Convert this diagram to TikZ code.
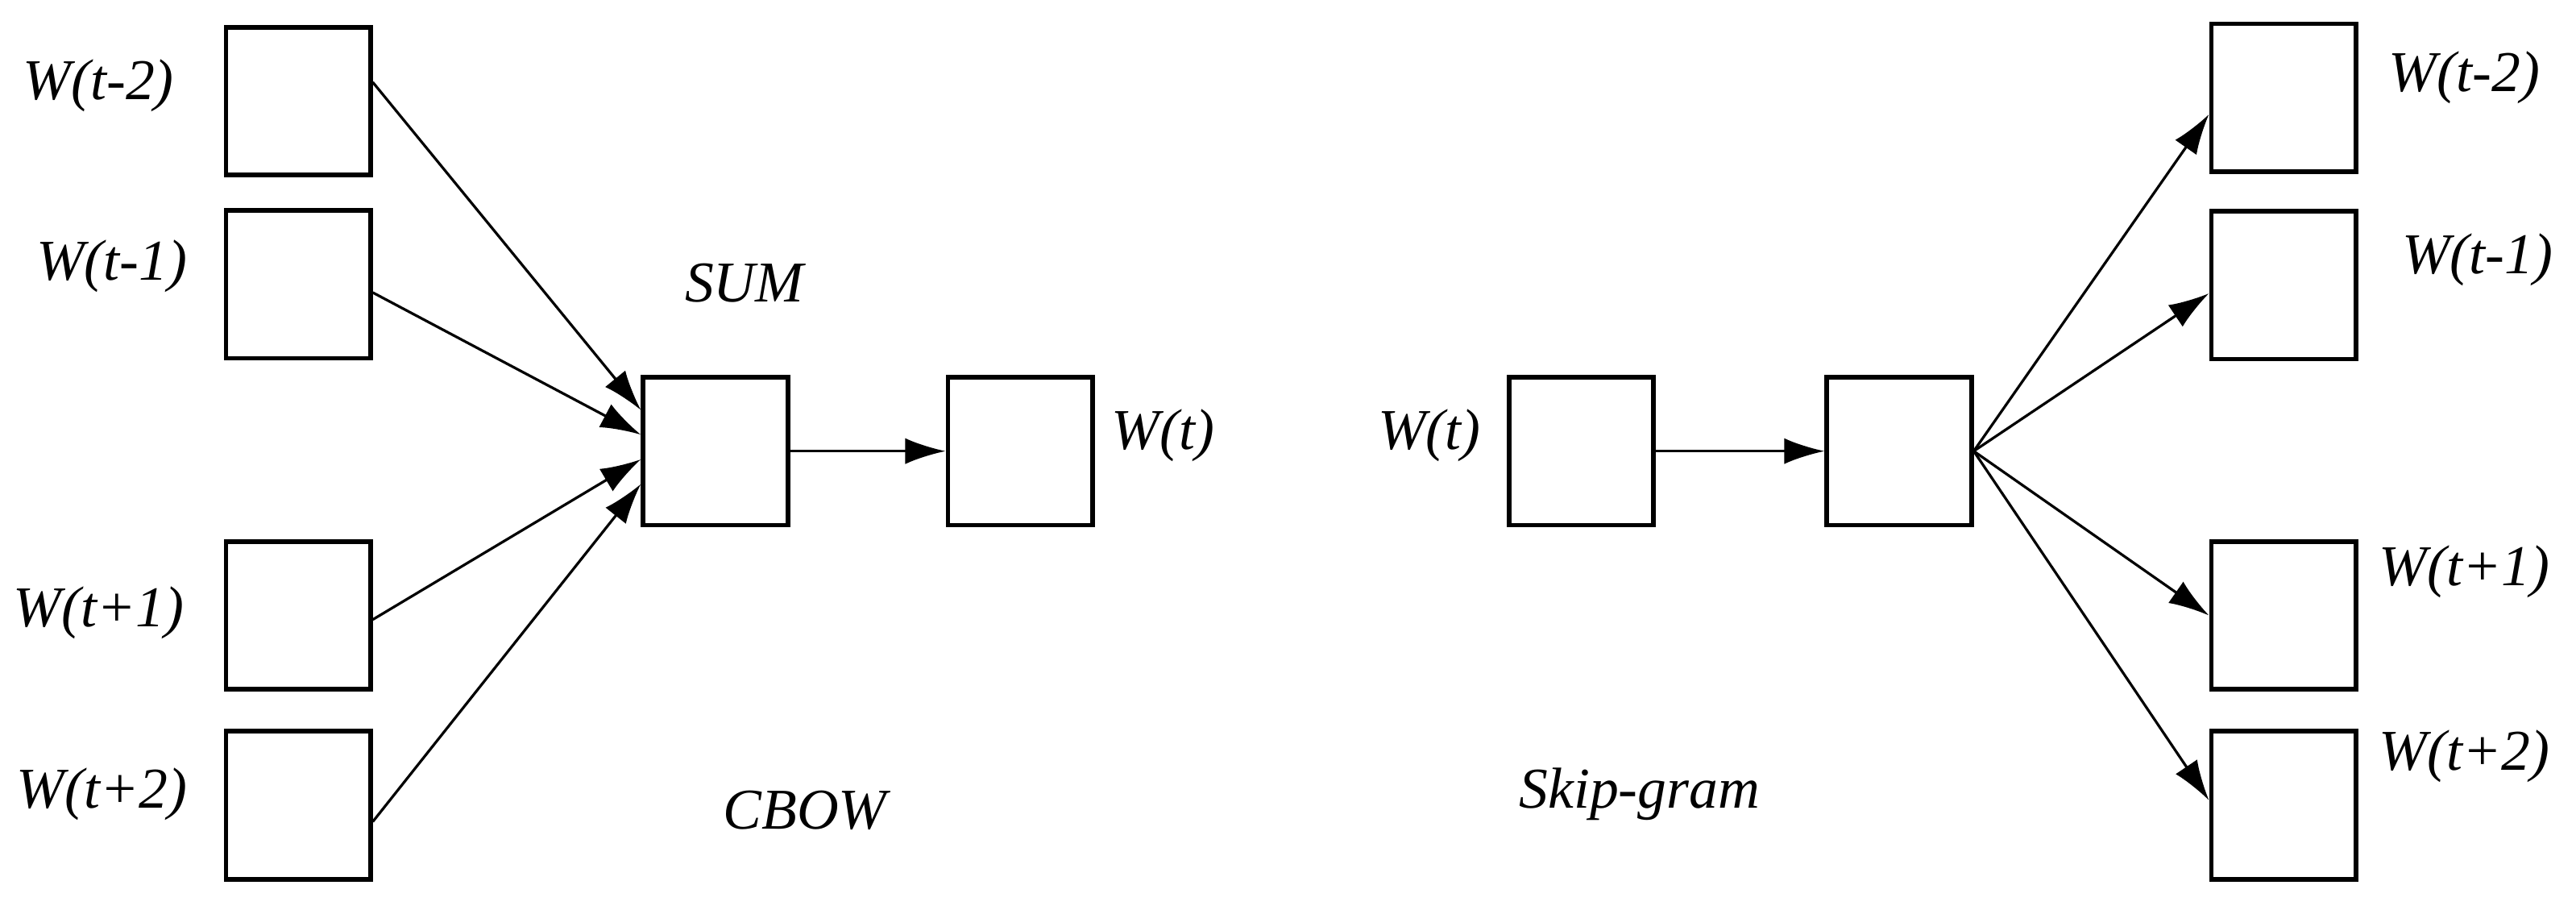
\documentclass[tikz,border=0pt]{standalone}
\usepackage{fontspec}
\setmainfont{Liberation Serif}
\usetikzlibrary{arrows.meta}
\begin{document}
\begin{tikzpicture}[x=0.02cm,y=-0.02cm,
  box/.style={draw,line width=1.6pt,minimum width=1.76cm,minimum height=1.8cm,inner sep=0pt},
  lab/.style={font=\fontsize{20}{24}\selectfont\itshape,inner sep=0pt},
  arr/.style={line width=0.9pt,-{Latex[length=14pt,width=9pt]}}]
\useasboundingbox (0,0) rectangle (1568,551);
\node[box] (l1) at (181.5,61.5) {};
\node[box] (l2) at (181.5,173) {};
\node[box] (l3) at (181.5,374.5) {};
\node[box] (l4) at (181.5,490) {};
\node[box] (sum) at (435.5,274.5) {};
\node[box] (out) at (621,274.5) {};
\node[box] (in) at (962.5,274.5) {};
\node[box] (hid) at (1156,274.5) {};
\node[box] (r1) at (1390,59.5) {};
\node[box] (r2) at (1390,173.5) {};
\node[box] (r3) at (1390,374.5) {};
\node[box] (r4) at (1390,490) {};
\node[lab] (t1) at (60,52) {W(t-2)};
\node[lab] (t2) at (68,162) {W(t-1)};
\node[lab] (t3) at (60,373) {W(t+1)};
\node[lab] (t4) at (62,483) {W(t+2)};
\node[lab] (ts) at (453,172) {SUM};
\node[lab] (to) at (708,265) {W(t)};
\node[lab] (tc) at (490,493) {CBOW};
\node[lab] (ti) at (870,265) {W(t)};
\node[lab] (tk) at (998,483) {Skip-gram};
\node[lab] (u1) at (1500,47) {W(t-2)};
\node[lab] (u2) at (1508,158) {W(t-1)};
\node[lab] (u3) at (1500,348) {W(t+1)};
\node[lab] (u4) at (1500,460) {W(t+2)};
\draw[arr] ([yshift=0.23cm]l1.east) -- ([yshift=0.5cm]sum.west);
\draw[arr] ([yshift=-0.1cm]l2.east) -- ([yshift=0.2cm]sum.west);
\draw[arr] ([yshift=-0.05cm]l3.east) -- ([yshift=-0.1cm]sum.west);
\draw[arr] ([yshift=-0.2cm]l4.east) -- ([yshift=-0.4cm]sum.west);
\draw[arr] (sum.east) -- (out.west);
\draw[arr] (in.east) -- (hid.west);
\draw[arr] (hid.east) -- ([yshift=-0.2cm]r1.west);
\draw[arr] (hid.east) -- ([yshift=-0.1cm]r2.west);
\draw[arr] (hid.east) -- ([yshift=0cm]r3.west);
\draw[arr] (hid.east) -- ([yshift=0.06cm]r4.west);
\end{tikzpicture}
\end{document}
